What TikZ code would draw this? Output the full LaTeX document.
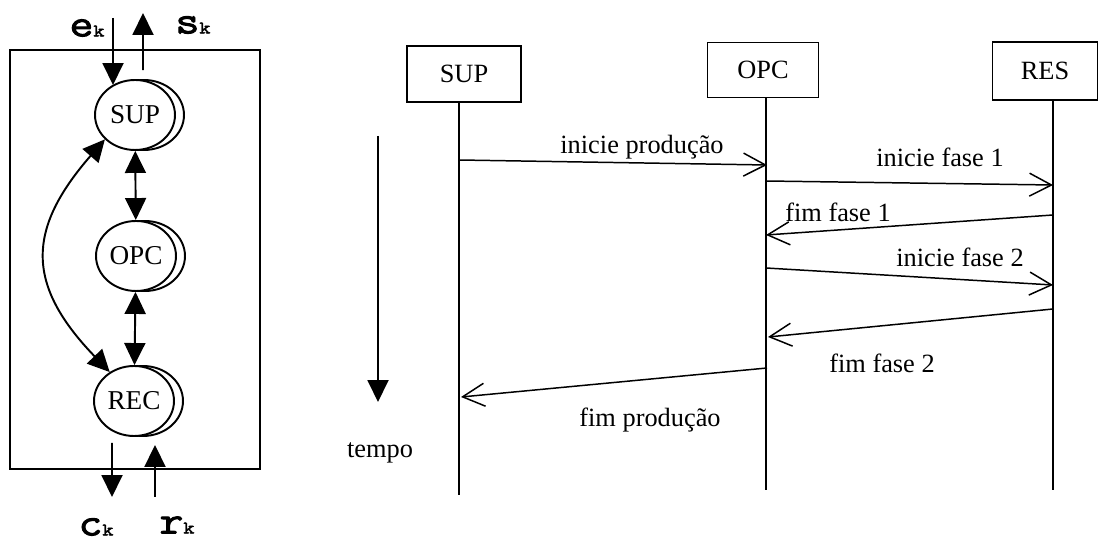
\documentclass[tikz,border=0pt]{standalone}
\usepackage{fontspec}
\setmainfont{Liberation Serif}
\newfontfamily\courfont{Latin Modern Mono}[FakeStretch=1.2, FakeBold=2.5]
\usetikzlibrary{arrows.meta,shapes.geometric,shadows}
\newcommand{\sig}[2]{{\fontsize{22}{22}\courfont #1{\fontsize{10}{10}\selectfont #2}}}

\begin{document}
\begin{tikzpicture}[x=0.02cm, y=-0.02cm, line width=1.1pt,
 proc/.style={draw, ellipse, minimum width=1.6cm, minimum height=1.4cm, inner sep=0pt, fill=white,
   font=\fontsize{15.5}{15.5}\selectfont,
   general shadow={shadow scale=1, shadow xshift=0.18cm, shadow yshift=0cm, fill=white, draw=black, line width=1.1pt}},
 tri/.style={-{Triangle[length=4.4mm,width=4.2mm]}},
 tritri/.style={{Triangle[length=4.4mm,width=4.2mm]}-{Triangle[length=4.4mm,width=4.2mm]}},
 obj/.style={draw, rectangle, line width=1pt, font=\fontsize{15}{15}\selectfont},
 msg/.style={line width=0.85pt, -{Straight Barb[length=4.4mm,width=4.6mm]}},
 life/.style={line width=0.85pt},
 lbl/.style={font=\fontsize{15}{15}\selectfont, inner sep=1pt}]
\useasboundingbox (0,0) rectangle (1101,546);

% processos
\draw (10,50) rectangle (260,469);
\node[proc] (sup) at (135,115) {SUP};
\node[proc] (opc) at (136,256) {OPC};
\node[proc] (rec) at (134,401) {REC};
\node (ek) at (87,28)  {\sig{e}{k}};
\node (sk) at (193,25) {\sig{s}{k}};
\node (ck) at (96,527) {\sig{c}{k}};
\node (rk) at (177,525) {\sig{r}{k}};
\coordinate (ein) at (113,18);
\coordinate (sout) at (143,13);
\coordinate (cout) at (112,497);
\coordinate (rin) at (155,497);
\draw[tri] (ein) -- (ein |- sup.127);
\draw[tri] ([xshift=0.16cm,yshift=0.18cm]sup.north) -- (sout);
\draw[tritri] (sup) -- (opc);
\draw[tritri] (opc) -- (rec);
\draw[tritri] (sup.219) .. controls (26,230) and (26,285) .. (rec.130);
\draw[tri] ([xshift=-0.44cm,yshift=-0.12cm]rec.south) -- (cout);
\draw[tri] (rin) -- ([xshift=0.42cm,yshift=-0.16cm]rec.south);

% diagrama de sequencia
\node[obj, minimum width=2.28cm, minimum height=1.12cm] (supbox) at (464,74) {SUP};
\node[obj, minimum width=2.22cm, minimum height=1.1cm]  (opcbox) at (763,70) {OPC};
\node[obj, minimum width=2.1cm,  minimum height=1.16cm] (resbox) at (1045,71) {RES};
\coordinate (supend) at (459,495);
\coordinate (opcend) at (766,490);
\coordinate (resend) at (1053,490);
\draw[life] (supbox.south -| supend) -- (supend);
\draw[life] (opcbox.south -| opcend) -- (opcend);
\draw[life] (resbox.south -| resend) -- (resend);

\coordinate (from1) at (459,160);  \coordinate (to1) at (767,165);
\coordinate (from2) at (766,181);  \coordinate (to2) at (1053,185);
\coordinate (from3) at (1053,215); \coordinate (to3) at (766,235);
\coordinate (from4) at (766,268);  \coordinate (to4) at (1053,285);
\coordinate (from5) at (1053,309); \coordinate (to5) at (768,337);
\coordinate (from6) at (767,368);  \coordinate (to6) at (461,397);
\foreach \i in {1,...,6}
  \draw[msg] (from\i) -- (to\i);
\node[lbl] (l1) at (642,147) {inicie produção};
\node[lbl] (l2) at (940,157) {inicie fase 1};
\node[lbl] (l3) at (838,212) {fim fase 1};
\node[lbl] (l4) at (960,257) {inicie fase 2};
\node[lbl] (l5) at (882,363) {fim fase 2};
\node[lbl] (l6) at (650,420) {fim produção};

\coordinate (t0) at (378,136);
\coordinate (t1) at (378,402);
\draw[tri] (t0) -- (t1);
\node[lbl] (tempo) at (380,453) {tempo};
\end{tikzpicture}
\end{document}
